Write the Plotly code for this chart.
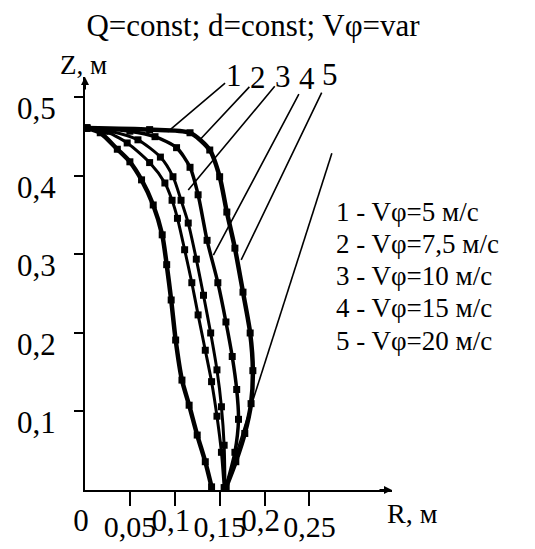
import plotly.graph_objects as go

FONT = "Liberation Serif"

# Curve data: R (m) and Z (m)
R1 = [0.002, 0.017, 0.036, 0.050, 0.063, 0.076, 0.086, 0.091, 0.096, 0.101, 0.108, 0.116, 0.125, 0.134, 0.141]
Z1 = [0.461, 0.455, 0.434, 0.418, 0.395, 0.363, 0.325, 0.287, 0.242, 0.191, 0.140, 0.108, 0.070, 0.036, 0.004]

R2 = [0.002, 0.022, 0.047, 0.072, 0.089, 0.097, 0.103, 0.111, 0.119, 0.126, 0.134, 0.141, 0.147, 0.152, 0.155]
Z2 = [0.461, 0.457, 0.442, 0.417, 0.391, 0.369, 0.346, 0.306, 0.264, 0.223, 0.178, 0.138, 0.094, 0.048, 0.003]

R3 = [0.002, 0.028, 0.059, 0.084, 0.098, 0.107, 0.115, 0.124, 0.132, 0.140, 0.147, 0.152, 0.155, 0.156]
Z3 = [0.461, 0.457, 0.446, 0.424, 0.399, 0.369, 0.340, 0.294, 0.248, 0.200, 0.153, 0.106, 0.057, 0.003]

R4 = [0.002, 0.050, 0.078, 0.102, 0.117, 0.126, 0.136, 0.148, 0.157, 0.164, 0.169, 0.171, 0.167, 0.157]
Z4 = [0.461, 0.457, 0.450, 0.436, 0.411, 0.376, 0.318, 0.264, 0.214, 0.170, 0.128, 0.090, 0.048, 0.003]

R5 = [0.002, 0.072, 0.117, 0.139, 0.150, 0.158, 0.167, 0.176, 0.184, 0.187, 0.185, 0.178, 0.168, 0.157]
Z5 = [0.461, 0.459, 0.455, 0.433, 0.399, 0.354, 0.308, 0.252, 0.200, 0.152, 0.110, 0.072, 0.036, 0.003]

curve_ids = ["1", "2", "3", "4", "5"]
legend_texts = ["1 - Vφ=5 м/с", "2 - Vφ=7,5 м/с", "3 - Vφ=10 м/с", "4 - Vφ=15 м/с", "5 - Vφ=20 м/с"]

# where each numbered leader line touches the plot (data coords)
leader_R = [0.092, 0.128, 0.115, 0.143, 0.174]
leader_Z = [0.456, 0.446, 0.382, 0.299, 0.293]

x_major_vals = [0, 0.1, 0.2]
x_major_text = ["0", "0,1", "0,2"]
x_minor_vals = [0.05, 0.1, 0.15, 0.2, 0.25]
x_minor_text = ["0,05", "", "0,15", "", "0,25"]
y_vals = [0.1, 0.2, 0.3, 0.4, 0.5]
y_text = ["0,1", "0,2", "0,3", "0,4", "0,5"]

XMAX = 0.342
YMAX = 0.526

fig = go.Figure()
widths = [4.5, 3, 3, 3.5, 4.5]
for rr, zz, w in zip([R1, R2, R3, R4, R5], [Z1, Z2, Z3, Z4, Z5], widths):
    fig.add_trace(go.Scatter(
        x=rr, y=zz, mode="lines+markers",
        line=dict(color="black", width=w, shape="spline", smoothing=0.7),
        marker=dict(symbol="square", size=7, color="black"),
        showlegend=False, hoverinfo="skip"))
# invisible trace so the second (staggered-label) x axis is drawn
fig.add_trace(go.Scatter(x=[0, XMAX], y=[0, 0], xaxis="x2", yaxis="y", mode="lines",
                         line=dict(width=0), opacity=0, showlegend=False, hoverinfo="skip"))

annotations = []
label_offsets = [(66, -56), (58, -62), (95, -114), (94, -177), (89, -185)]
for cid, rx, zy, (ax, ay) in zip(curve_ids, leader_R, leader_Z, label_offsets):
    annotations.append(dict(
        x=rx, y=zy, xref="x", yref="y", text=cid, showarrow=True,
        arrowhead=0, arrowwidth=1.6, arrowcolor="black", ax=ax, ay=ay,
        font=dict(family=FONT, size=31, color="black"), borderpad=0))

leg_y = [0.673, 0.595, 0.518, 0.441, 0.361]
for t, yy in zip(legend_texts, leg_y):
    annotations.append(dict(
        x=0.814, y=yy, xref="paper", yref="paper", text=t, showarrow=False,
        xanchor="left", yanchor="middle", borderpad=0,
        font=dict(family=FONT, size=27, color="black")))

annotations.append(dict(x=-0.088, y=1.029, xref="paper", yref="paper", text="Z, м",
                        showarrow=False, xanchor="left", yanchor="middle",
                        font=dict(family=FONT, size=27, color="black")))
annotations.append(dict(x=1.068, y=-0.056, xref="paper", yref="paper", text="R, м",
                        showarrow=False, xanchor="center", yanchor="middle",
                        font=dict(family=FONT, size=28, color="black")))
annotations.append(dict(x=0, y=YMAX, xref="x", yref="y", text="", showarrow=True,
                        arrowhead=2, arrowsize=0.8, arrowwidth=2, arrowcolor="black",
                        ax=0, ay=14))
annotations.append(dict(x=XMAX, y=0, xref="x", yref="y", text="", showarrow=True,
                        arrowhead=2, arrowsize=0.8, arrowwidth=2, arrowcolor="black",
                        ax=-14, ay=0))

fig.update_layout(
    width=535, height=549,
    margin=dict(l=85, r=143, t=77, b=59, autoexpand=False),
    paper_bgcolor="white", plot_bgcolor="white",
    font=dict(family=FONT, color="black"),
    title=dict(text="Q=const; d=const; Vφ=var", x=0.473, xref="container",
               y=1 - 25 / 549, yref="container", xanchor="center", yanchor="middle",
               font=dict(family=FONT, size=31, color="black"), automargin=False),
    xaxis=dict(range=[0, XMAX], showline=True, linecolor="black", linewidth=2,
               showgrid=False, zeroline=False, tickvals=x_major_vals, ticktext=x_major_text,
               ticks="", tickfont=dict(family=FONT, size=31, color="black"),
               ticklabelstandoff=2, ticklabelshift=-4, automargin=False),
    xaxis2=dict(range=[0, XMAX], overlaying="x", anchor="y", side="bottom",
                showline=False, showgrid=False, zeroline=False,
                tickvals=x_minor_vals, ticktext=x_minor_text,
                ticks="outside", ticklen=15, tickwidth=2, tickcolor="black",
                tickfont=dict(family=FONT, size=30, color="black"),
                ticklabelstandoff=-5, automargin=False),
    yaxis=dict(range=[0, YMAX], showline=True, linecolor="black", linewidth=2,
               showgrid=False, zeroline=False, tickvals=y_vals, ticktext=y_text,
               ticks="outside", ticklen=9, tickwidth=2, tickcolor="black",
               tickfont=dict(family=FONT, size=31, color="black"),
               ticklabelstandoff=12, ticklabelshift=11, automargin=False),
    annotations=annotations,
    shapes=[dict(type="line", xref="x", yref="y", x0=0.275, y0=0.429, x1=0.156, y1=0.003,
                 line=dict(color="black", width=1.6))],
)

fig.write_html("out.html")
